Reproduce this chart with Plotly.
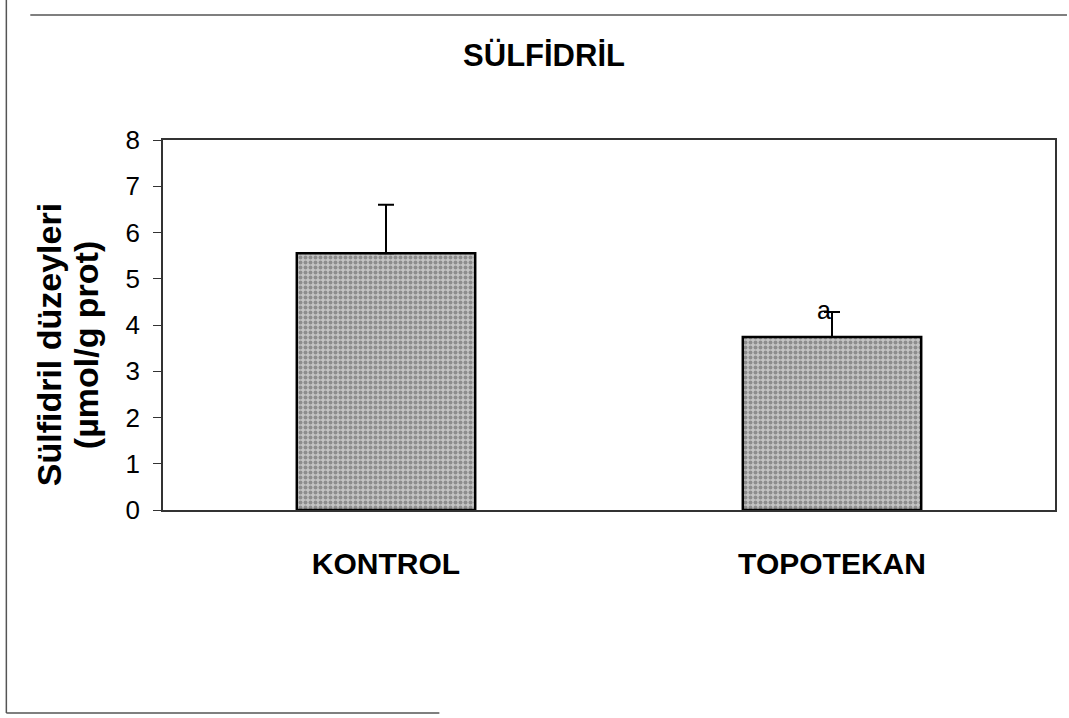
import plotly.graph_objects as go

# Sulfhydryl levels per group (mean and upper SD)
groups = ["KONTROL", "TOPOTEKAN"]
means = [5.55, 3.74]
sd_upper = [1.05, 0.54]
sig_labels = ["", "a"]
y_title_lines = ["Sülfidril düzeyleri", "(µmol/g prot)"]

W, H = 1069, 718
L, R, T, B = 163, 12, 140, 208
plot_w = W - L - R
plot_h = H - T - B


def px_x(px):
    return (px - L) / plot_w


def px_y(py):
    return (H - B - py) / plot_h


fig = go.Figure()

fig.add_trace(go.Bar(
    x=groups,
    y=means,
    width=0.4,
    marker=dict(
        color="#a8a8a8",
        line=dict(color="black", width=2.5),
        pattern=dict(shape=".", fgcolor="#555555", bgcolor="#c4c4c4",
                     size=5, solidity=0.5),
    ),
    error_y=dict(type="data", symmetric=False, array=sd_upper,
                 arrayminus=[0, 0], color="black", thickness=2, width=8),
    showlegend=False,
))

# significance marks placed at the top of the error bars
for g, m, s, lab in zip(groups, means, sd_upper, sig_labels):
    if lab:
        fig.add_annotation(x=g, y=m + s, text=lab, showarrow=False,
                           xshift=-8, yshift=2,
                           font=dict(family="Liberation Sans, Arial", size=25, color="black"))

# two-line y axis title, one rotated annotation per line
for line_text, cx in zip(y_title_lines, [49, 86]):
    fig.add_annotation(
        xref="paper", yref="paper", x=px_x(cx), y=px_y(345),
        xanchor="center", yanchor="middle",
        text="<b>" + line_text + "</b>",
        textangle=-90, showarrow=False,
        font=dict(family="Liberation Sans, Arial", size=34, color="black"),
    )

# page frame
frame = dict(color="#555555", width=1.5)
fig.add_shape(type="line", xref="paper", yref="paper",
              x0=px_x(30), x1=px_x(1069), y0=px_y(15), y1=px_y(15), line=frame)
fig.add_shape(type="line", xref="paper", yref="paper",
              x0=px_x(6), x1=px_x(6), y0=px_y(0), y1=px_y(713), line=frame)
fig.add_shape(type="line", xref="paper", yref="paper",
              x0=px_x(6), x1=px_x(440), y0=px_y(713), y1=px_y(713), line=frame)

fig.update_layout(
    width=W, height=H,
    margin=dict(l=L, r=R, t=T, b=B),
    paper_bgcolor="white", plot_bgcolor="white",
    font=dict(family="Liberation Sans, Arial", color="black"),
    title=dict(text="<b>SÜLFİDRİL</b>", x=544 / W, xanchor="center",
               y=1 - 55 / H, yanchor="middle",
               font=dict(size=31, color="black")),
    bargap=0.6,
)

fig.update_xaxes(
    showline=True, linecolor="#333333", linewidth=1.5, mirror=True,
    ticks="", showgrid=False,
    tickfont=dict(size=30, family="Liberation Sans, Arial", weight="bold"),
    ticklabelstandoff=26,
)
fig.update_yaxes(
    range=[0, 8], dtick=1, showline=True, linecolor="#333333", linewidth=1.5,
    mirror=True, ticks="outside", ticklen=8, tickcolor="#333333",
    showgrid=False, zeroline=False,
    tickfont=dict(size=26, family="Liberation Sans, Arial"),
    ticklabelstandoff=8,
)

fig.write_html("out.html")
